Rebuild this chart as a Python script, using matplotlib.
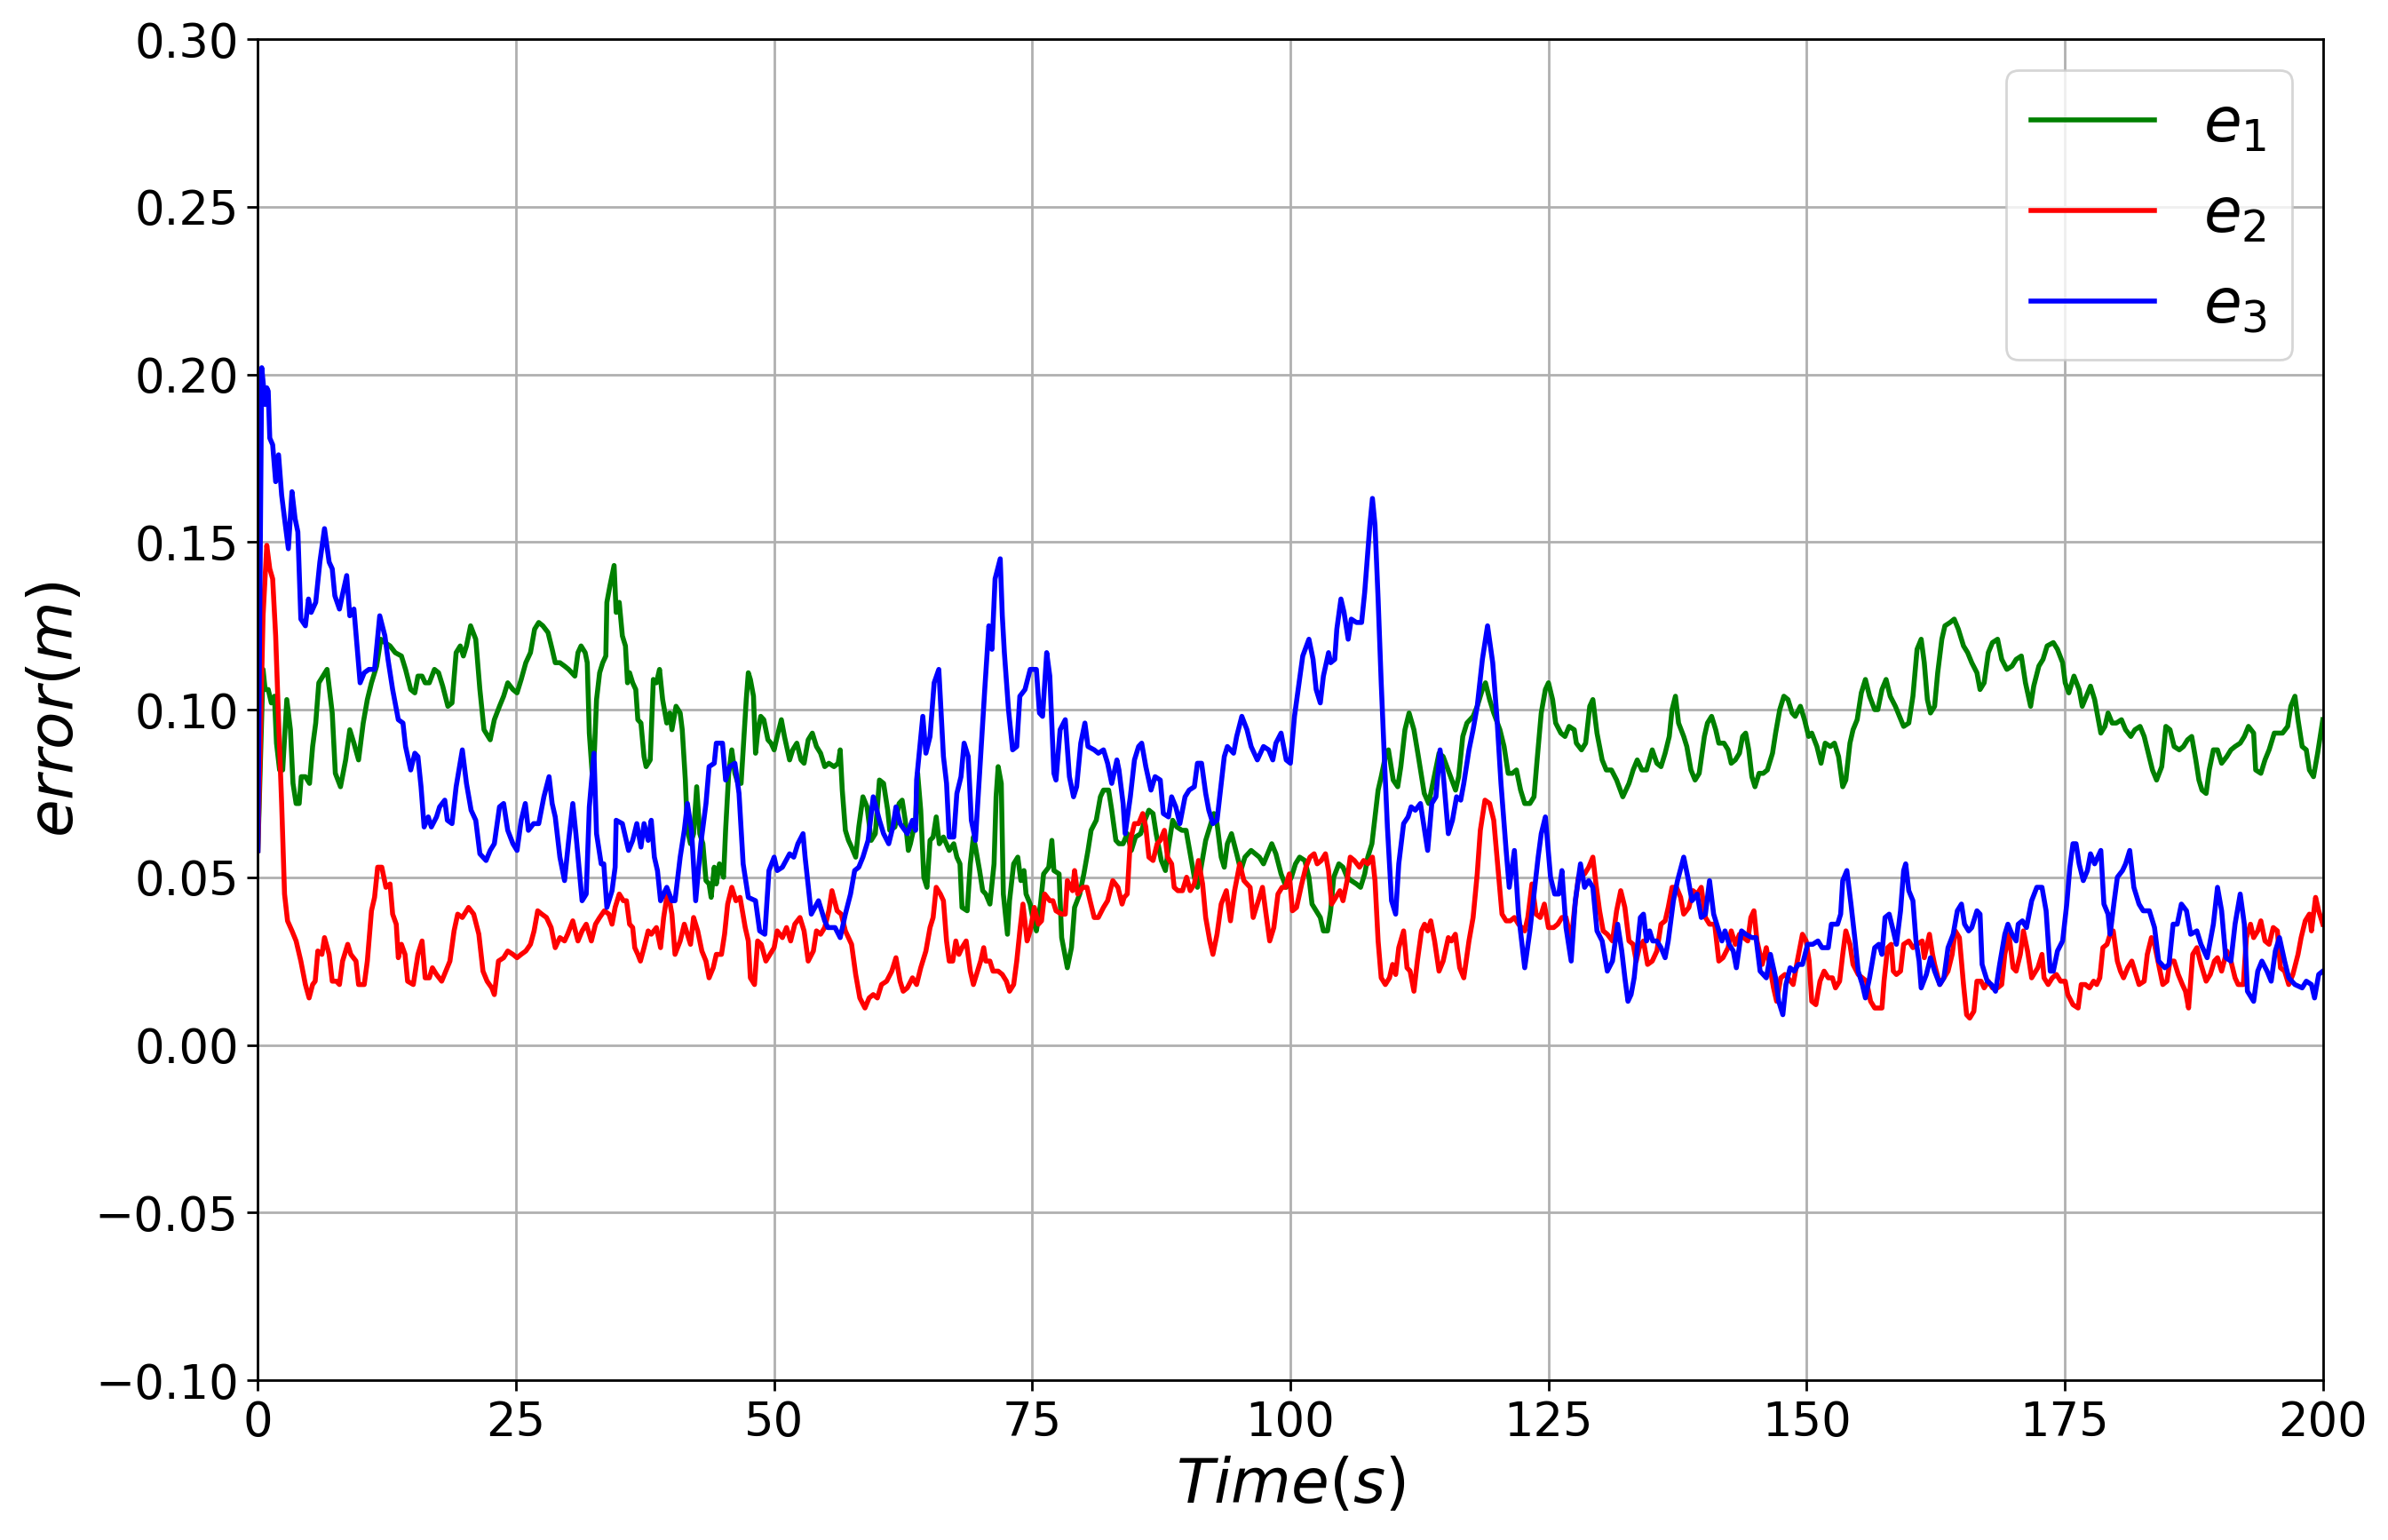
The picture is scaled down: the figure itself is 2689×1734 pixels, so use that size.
import matplotlib
matplotlib.use("Agg")
import matplotlib.pyplot as plt

# e1 (green)
t_e1 = [0.0, 0.5, 0.7, 1.0, 1.3, 1.6, 1.8, 2.1, 2.4, 2.8, 3.15, 3.4, 3.7, 4.0, 4.2, 4.6, 5.0, 5.3, 5.6, 5.9,
        6.3, 6.7, 7.2, 7.5, 8.0, 8.5, 8.9, 9.3, 9.75, 10.2, 10.6, 11.0, 11.5, 11.9, 12.3, 12.8, 13.3, 13.9, 14.3, 14.8,
        15.2, 15.5, 15.9, 16.2, 16.6, 17.1, 17.5, 17.9, 18.4, 18.8, 19.2, 19.6, 19.9, 20.2, 20.6, 21.1, 21.5, 21.9, 22.5, 22.9,
        23.4, 23.8, 24.2, 24.7, 25.1, 25.5, 25.95, 26.4, 26.8, 27.2, 27.6, 28.1, 28.5, 28.8, 29.25, 29.7, 30.1, 30.7, 31.0, 31.3,
        31.7, 31.9, 32.1, 32.4, 32.6, 32.8, 33.1, 33.4, 33.7, 33.8, 34.1, 34.5, 34.7, 35.0, 35.3, 35.6, 35.8, 36.0, 36.3, 36.6,
        36.8, 37.1, 37.4, 37.6, 38.0, 38.3, 38.6, 38.9, 39.2, 39.6, 39.9, 40.1, 40.5, 40.9, 41.1, 41.4, 41.6, 41.9, 42.2, 42.5,
        42.8, 43.1, 43.4, 43.7, 43.9, 44.2, 44.4, 44.7, 45.1, 45.3, 45.6, 45.9, 46.2, 46.5, 46.8, 47.0, 47.3, 47.5, 47.7, 48.0,
        48.2, 48.4, 48.7, 49.0, 49.4, 49.7, 50.0, 50.3, 50.7, 51.0, 51.5, 51.8, 52.2, 52.6, 52.9, 53.3, 53.7, 54.1, 54.5, 54.9,
        55.3, 55.8, 56.2, 56.4, 56.6, 56.9, 57.2, 57.5, 57.9, 58.2, 58.6, 59.0, 59.4, 59.8, 60.2, 60.6, 61.0, 61.2, 61.7, 62.1,
        62.4, 62.7, 63.0, 63.2, 63.7, 63.9, 64.2, 64.5, 64.8, 65.1, 65.4, 65.7, 66.0, 66.4, 66.96, 67.4, 67.7, 68.0, 68.2, 68.7,
        69.0, 69.3, 69.5, 69.9, 70.2, 70.5, 70.9, 71.3, 71.5, 71.7, 72.0, 72.2, 72.4, 72.6, 72.8, 73.2, 73.6, 73.9, 74.2, 74.4,
        74.8, 75.1, 75.4, 75.8, 76.1, 76.6, 76.9, 77.1, 77.6, 77.85, 78.4, 78.8, 79.1, 79.6, 80.0, 80.4, 80.7, 81.2, 81.6, 81.9,
        82.4, 82.7, 83.1, 83.4, 83.8, 84.2, 84.6, 85.0, 85.5, 85.9, 86.3, 86.7, 87.0, 87.5, 87.9, 88.2, 88.6, 89.0, 89.5, 89.9,
        90.3, 90.7, 91.0, 91.3, 91.8, 92.2, 92.6, 92.9, 93.3, 93.6, 93.9, 94.3, 94.8, 95.2, 95.6, 96.2, 96.6, 97.0, 97.4, 97.8,
        98.2, 98.6, 99.1, 99.6, 100.1, 100.5, 100.9, 101.4, 101.8, 102.1, 102.5, 102.9, 103.2, 103.6, 103.9, 104.2, 104.7, 105.1, 105.5, 105.9,
        106.4, 106.8, 107.2, 107.5, 107.9, 108.2, 108.5, 108.8, 109.2, 109.5, 109.96, 110.4, 110.7, 111.1, 111.5, 111.97, 112.4, 112.97, 113.4, 113.8,
        114.4, 114.8, 115.4, 116.0, 116.3, 116.7, 117.1, 117.7, 118.1, 118.6, 118.9, 119.3, 119.7, 120.3, 120.7, 121.1, 121.5, 121.9, 122.3, 122.7,
        123.2, 123.6, 123.9, 124.3, 124.7, 125.0, 125.4, 125.7, 126.2, 126.6, 127.0, 127.5, 127.7, 128.2, 128.6, 129.0, 129.3, 129.7, 130.2, 130.6,
        131.1, 131.6, 132.2, 132.8, 133.2, 133.6, 134.05, 134.5, 135.05, 135.5, 135.9, 136.3, 136.7, 136.97, 137.3, 137.6, 138.1, 138.4, 138.8, 139.2,
        139.6, 140.1, 140.4, 140.8, 141.2, 141.5, 142.0, 142.4, 142.7, 143.1, 143.5, 143.8, 144.1, 144.4, 144.7, 145.0, 145.4, 145.8, 146.2, 146.7,
        147.0, 147.4, 147.8, 148.2, 148.6, 148.9, 149.4, 149.8, 150.2, 150.5, 151.0, 151.4, 151.8, 152.3, 152.7, 153.1, 153.5, 153.8, 154.2, 154.5,
        154.9, 155.3, 155.7, 156.1, 156.6, 156.9, 157.3, 157.7, 158.1, 158.6, 159.0, 159.4, 159.9, 160.3, 160.7, 161.1, 161.4, 161.7, 162.0, 162.4,
        162.7, 163.1, 163.4, 163.9, 164.3, 164.7, 165.2, 165.6, 166.0, 166.5, 166.8, 167.2, 167.6, 168.0, 168.5, 168.9, 169.4, 169.9, 170.3, 170.8,
        171.2, 171.7, 172.0, 172.5, 172.9, 173.3, 173.9, 174.3, 174.8, 175.05, 175.4, 175.9, 176.4, 176.7, 177.1, 177.5, 177.9, 178.2, 178.5, 178.9,
        179.2, 179.6, 180.0, 180.5, 180.9, 181.4, 181.8, 182.3, 182.7, 183.1, 183.5, 183.9, 184.4, 184.8, 185.2, 185.6, 186.1, 186.5, 186.9, 187.3,
        187.7, 188.0, 188.3, 188.7, 189.0, 189.4, 189.8, 190.2, 190.7, 191.1, 191.5, 192.0, 192.4, 192.8, 193.3, 193.5, 194.0, 194.4, 194.8, 195.3,
        195.7, 196.1, 196.6, 196.9, 197.3, 197.6, 198.0, 198.4, 198.7, 199.1, 199.5, 200.0]
e1 = [0.058, 0.112, 0.106, 0.106, 0.102, 0.104, 0.090, 0.082, 0.082, 0.103, 0.094, 0.078, 0.072, 0.072, 0.080, 0.080, 0.078, 0.089, 0.096, 0.108,
      0.110, 0.112, 0.099, 0.081, 0.077, 0.085, 0.094, 0.090, 0.085, 0.096, 0.103, 0.108, 0.113, 0.121, 0.120, 0.119, 0.117, 0.116, 0.112, 0.106,
      0.105, 0.110, 0.110, 0.108, 0.108, 0.112, 0.111, 0.107, 0.101, 0.102, 0.117, 0.119, 0.116, 0.119, 0.125, 0.121, 0.106, 0.094, 0.091, 0.097,
      0.101, 0.104, 0.108, 0.106, 0.105, 0.109, 0.114, 0.117, 0.124, 0.126, 0.125, 0.123, 0.118, 0.114, 0.114, 0.113, 0.112, 0.110, 0.117, 0.119,
      0.117, 0.114, 0.093, 0.080, 0.088, 0.103, 0.111, 0.114, 0.116, 0.132, 0.137, 0.143, 0.129, 0.132, 0.122, 0.119, 0.108, 0.111, 0.108, 0.106,
      0.097, 0.096, 0.086, 0.083, 0.085, 0.109, 0.108, 0.112, 0.103, 0.096, 0.099, 0.094, 0.101, 0.099, 0.094, 0.079, 0.064, 0.060, 0.063, 0.077,
      0.063, 0.060, 0.049, 0.048, 0.044, 0.053, 0.048, 0.054, 0.050, 0.064, 0.081, 0.088, 0.081, 0.078, 0.078, 0.088, 0.103, 0.111, 0.109, 0.104,
      0.087, 0.093, 0.098, 0.097, 0.091, 0.090, 0.088, 0.092, 0.097, 0.092, 0.085, 0.088, 0.090, 0.085, 0.084, 0.091, 0.093, 0.089, 0.087, 0.083,
      0.084, 0.083, 0.084, 0.088, 0.076, 0.064, 0.061, 0.059, 0.056, 0.065, 0.074, 0.071, 0.061, 0.063, 0.079, 0.078, 0.070, 0.064, 0.065, 0.072,
      0.073, 0.067, 0.058, 0.060, 0.067, 0.081, 0.070, 0.050, 0.047, 0.061, 0.062, 0.068, 0.060, 0.062, 0.058, 0.060, 0.056, 0.054, 0.041, 0.040,
      0.054, 0.062, 0.059, 0.052, 0.046, 0.045, 0.042, 0.054, 0.074, 0.083, 0.078, 0.045, 0.039, 0.033, 0.043, 0.054, 0.056, 0.049, 0.052, 0.045,
      0.042, 0.037, 0.034, 0.042, 0.051, 0.053, 0.061, 0.052, 0.051, 0.032, 0.023, 0.029, 0.041, 0.045, 0.051, 0.058, 0.064, 0.067, 0.074, 0.076,
      0.076, 0.070, 0.061, 0.060, 0.060, 0.063, 0.058, 0.062, 0.063, 0.067, 0.070, 0.069, 0.063, 0.055, 0.052, 0.059, 0.067, 0.065, 0.064, 0.064,
      0.057, 0.050, 0.047, 0.052, 0.061, 0.065, 0.069, 0.066, 0.056, 0.053, 0.060, 0.063, 0.057, 0.052, 0.056, 0.058, 0.057, 0.056, 0.054, 0.057,
      0.060, 0.057, 0.051, 0.047, 0.050, 0.054, 0.056, 0.055, 0.050, 0.042, 0.040, 0.038, 0.034, 0.034, 0.040, 0.050, 0.054, 0.053, 0.050, 0.049,
      0.048, 0.047, 0.051, 0.056, 0.060, 0.068, 0.076, 0.080, 0.086, 0.088, 0.079, 0.077, 0.083, 0.094, 0.099, 0.094, 0.086, 0.075, 0.072, 0.078,
      0.087, 0.086, 0.081, 0.076, 0.080, 0.092, 0.096, 0.098, 0.101, 0.106, 0.108, 0.103, 0.099, 0.094, 0.089, 0.081, 0.081, 0.082, 0.076, 0.072,
      0.072, 0.074, 0.085, 0.099, 0.106, 0.108, 0.103, 0.096, 0.093, 0.092, 0.095, 0.094, 0.090, 0.088, 0.090, 0.101, 0.103, 0.093, 0.085, 0.082,
      0.082, 0.079, 0.074, 0.078, 0.082, 0.085, 0.082, 0.082, 0.088, 0.084, 0.083, 0.087, 0.092, 0.100, 0.104, 0.096, 0.092, 0.089, 0.082, 0.079,
      0.081, 0.092, 0.096, 0.098, 0.094, 0.090, 0.090, 0.088, 0.084, 0.085, 0.087, 0.092, 0.093, 0.088, 0.080, 0.077, 0.081, 0.081, 0.082, 0.087,
      0.093, 0.100, 0.104, 0.103, 0.099, 0.098, 0.101, 0.097, 0.092, 0.093, 0.089, 0.084, 0.090, 0.089, 0.090, 0.086, 0.077, 0.079, 0.090, 0.094,
      0.097, 0.105, 0.109, 0.104, 0.100, 0.100, 0.106, 0.109, 0.104, 0.101, 0.098, 0.095, 0.096, 0.104, 0.118, 0.121, 0.114, 0.103, 0.099, 0.101,
      0.111, 0.121, 0.125, 0.126, 0.127, 0.124, 0.119, 0.117, 0.114, 0.111, 0.106, 0.108, 0.117, 0.120, 0.121, 0.115, 0.112, 0.113, 0.115, 0.116,
      0.108, 0.101, 0.107, 0.113, 0.115, 0.119, 0.120, 0.118, 0.114, 0.108, 0.105, 0.110, 0.106, 0.101, 0.104, 0.107, 0.103, 0.098, 0.093, 0.095,
      0.099, 0.096, 0.096, 0.097, 0.094, 0.092, 0.094, 0.095, 0.092, 0.087, 0.082, 0.079, 0.083, 0.095, 0.094, 0.089, 0.088, 0.089, 0.091, 0.092,
      0.085, 0.079, 0.076, 0.075, 0.082, 0.088, 0.088, 0.084, 0.086, 0.088, 0.089, 0.090, 0.092, 0.095, 0.093, 0.082, 0.081, 0.085, 0.088, 0.093,
      0.093, 0.093, 0.095, 0.101, 0.104, 0.097, 0.089, 0.088, 0.082, 0.080, 0.087, 0.097]

# e2 (red)
t_e2 = [0.0, 0.5, 0.86, 1.15, 1.43, 1.72, 2.0, 2.3, 2.58, 2.87, 3.3, 3.7, 4.16, 4.6, 4.96, 5.3, 5.55, 5.8, 6.2, 6.45,
        6.9, 7.2, 7.6, 7.9, 8.2, 8.7, 9.0, 9.5, 9.75, 10.3, 10.6, 11.0, 11.3, 11.6, 12.0, 12.4, 12.8, 13.05, 13.4, 13.6,
        13.9, 14.25, 14.5, 15.05, 15.5, 15.9, 16.2, 16.6, 16.9, 17.3, 17.8, 18.2, 18.6, 19.0, 19.35, 19.8, 20.4, 20.9, 21.4, 21.8,
        22.2, 22.65, 22.9, 23.3, 23.8, 24.2, 24.7, 25.1, 25.5, 25.95, 26.4, 26.75, 27.1, 27.5, 27.95, 28.4, 28.8, 29.25, 29.7, 30.0,
        30.5, 31.0, 31.4, 31.8, 32.3, 32.7, 33.1, 33.55, 34.0, 34.3, 34.6, 35.0, 35.4, 35.7, 36.0, 36.3, 36.5, 36.8, 37.05, 37.4,
        37.8, 38.1, 38.6, 39.0, 39.3, 39.7, 40.1, 40.4, 40.9, 41.3, 41.6, 41.9, 42.2, 42.6, 43.0, 43.4, 43.7, 44.1, 44.4, 44.9,
        45.2, 45.5, 45.9, 46.3, 46.7, 47.2, 47.5, 47.7, 48.1, 48.4, 48.75, 49.2, 49.6, 50.0, 50.3, 50.8, 51.2, 51.6, 52.0, 52.5,
        52.9, 53.3, 53.8, 54.1, 54.5, 54.9, 55.3, 55.6, 56.1, 56.5, 56.9, 57.5, 57.9, 58.3, 58.8, 59.2, 59.6, 60.0, 60.4, 60.9,
        61.4, 61.8, 62.2, 62.5, 62.9, 63.4, 63.8, 64.2, 64.7, 65.1, 65.4, 65.7, 66.1, 66.4, 66.7, 66.96, 67.3, 67.6, 67.9, 68.2,
        68.6, 69.0, 69.3, 69.7, 70.0, 70.3, 70.5, 70.9, 71.2, 71.7, 72.1, 72.5, 72.8, 73.2, 73.5, 73.8, 74.1, 74.5, 74.8, 75.2,
        75.6, 75.9, 76.2, 76.7, 77.0, 77.3, 77.85, 78.2, 78.4, 78.9, 79.1, 79.4, 79.9, 80.3, 80.6, 81.0, 81.4, 81.9, 82.3, 82.8,
        83.3, 83.7, 83.9, 84.2, 84.5, 84.9, 85.3, 85.7, 86.0, 86.3, 86.7, 87.1, 87.4, 87.8, 88.1, 88.5, 88.75, 89.1, 89.55, 89.95,
        90.3, 90.7, 91.1, 91.5, 91.8, 92.2, 92.5, 92.9, 93.3, 93.8, 94.2, 94.6, 95.1, 95.5, 96.1, 96.4, 96.8, 97.3, 97.6, 98.0,
        98.4, 98.8, 99.2, 99.5, 99.9, 100.2, 100.6, 101.1, 101.5, 101.9, 102.3, 102.6, 103.0, 103.4, 103.7, 104.0, 104.4, 104.8, 105.1, 105.5,
        105.8, 106.2, 106.7, 107.1, 107.5, 107.95, 108.2, 108.5, 108.8, 109.2, 109.6, 109.9, 110.2, 110.5, 110.97, 111.3, 111.6, 111.97, 112.3, 112.7,
        113.0, 113.3, 113.6, 113.97, 114.4, 114.8, 115.3, 115.6, 115.98, 116.4, 116.8, 117.3, 117.7, 118.1, 118.4, 118.85, 119.3, 119.7, 120.1, 120.5,
        120.9, 121.3, 121.7, 122.1, 122.7, 123.0, 123.4, 123.8, 124.2, 124.6, 125.0, 125.5, 125.9, 126.3, 126.7, 127.2, 127.5, 127.9, 128.5, 128.9,
        129.3, 129.6, 129.95, 130.3, 130.7, 131.2, 131.6, 132.0, 132.4, 132.8, 133.2, 133.5, 133.8, 134.2, 134.6, 135.05, 135.5, 135.9, 136.3, 136.6,
        136.97, 137.4, 137.8, 138.1, 138.6, 139.0, 139.4, 139.8, 140.2, 140.6, 141.1, 141.5, 141.9, 142.4, 142.7, 143.1, 143.5, 143.9, 144.3, 144.6,
        144.9, 145.2, 145.7, 146.1, 146.4, 146.8, 147.1, 147.5, 147.9, 148.2, 148.7, 149.1, 149.6, 149.96, 150.25, 150.5, 150.9, 151.3, 151.7, 152.1,
        152.5, 152.8, 153.2, 153.5, 153.8, 154.2, 154.5, 155.0, 155.4, 155.8, 156.2, 156.6, 157.3, 157.5, 157.85, 158.2, 158.4, 158.7, 159.1, 159.4,
        159.9, 160.3, 160.7, 161.2, 161.4, 161.9, 162.2, 162.4, 162.9, 163.3, 163.7, 164.1, 164.4, 164.8, 165.2, 165.5, 165.8, 166.2, 166.5, 166.9,
        167.2, 167.6, 168.0, 168.5, 168.9, 169.2, 169.6, 170.0, 170.3, 170.7, 171.0, 171.4, 171.8, 172.0, 172.4, 172.8, 173.0, 173.4, 173.8, 174.2,
        174.6, 175.05, 175.3, 175.8, 176.3, 176.6, 177.0, 177.4, 177.8, 178.1, 178.4, 178.7, 179.1, 179.4, 179.7, 180.1, 180.4, 180.7, 181.1, 181.5,
        181.9, 182.2, 182.7, 183.0, 183.4, 183.7, 184.1, 184.5, 184.9, 185.2, 185.6, 186.0, 186.4, 186.7, 187.0, 187.4, 187.8, 188.2, 188.7, 189.1,
        189.5, 189.8, 190.2, 190.7, 191.1, 191.5, 191.8, 192.3, 192.6, 193.0, 193.3, 193.7, 194.0, 194.4, 194.8, 195.2, 195.6, 195.9, 196.3, 196.7,
        197.1, 197.6, 197.9, 198.3, 198.7, 198.9, 199.3, 199.6, 200.0]
e2 = [0.058, 0.128, 0.149, 0.142, 0.139, 0.122, 0.097, 0.072, 0.045, 0.037, 0.034, 0.031, 0.025, 0.018, 0.014, 0.018, 0.019, 0.028, 0.027, 0.032,
      0.027, 0.019, 0.019, 0.018, 0.025, 0.030, 0.027, 0.025, 0.018, 0.018, 0.025, 0.040, 0.044, 0.053, 0.053, 0.047, 0.048, 0.039, 0.036, 0.026,
      0.030, 0.027, 0.019, 0.018, 0.027, 0.031, 0.020, 0.020, 0.023, 0.021, 0.019, 0.022, 0.025, 0.034, 0.039, 0.038, 0.041, 0.039, 0.033, 0.022,
      0.019, 0.017, 0.015, 0.025, 0.026, 0.028, 0.027, 0.026, 0.027, 0.028, 0.030, 0.034, 0.040, 0.039, 0.038, 0.035, 0.029, 0.032, 0.031, 0.033,
      0.037, 0.031, 0.034, 0.036, 0.031, 0.036, 0.038, 0.040, 0.039, 0.036, 0.041, 0.045, 0.043, 0.043, 0.036, 0.035, 0.029, 0.027, 0.025, 0.029,
      0.034, 0.033, 0.035, 0.029, 0.038, 0.046, 0.039, 0.027, 0.031, 0.036, 0.033, 0.030, 0.038, 0.034, 0.028, 0.025, 0.020, 0.023, 0.027, 0.027,
      0.033, 0.042, 0.047, 0.043, 0.044, 0.035, 0.031, 0.020, 0.018, 0.031, 0.030, 0.025, 0.027, 0.029, 0.034, 0.032, 0.035, 0.031, 0.036, 0.038,
      0.034, 0.025, 0.028, 0.034, 0.033, 0.035, 0.040, 0.046, 0.040, 0.039, 0.034, 0.030, 0.021, 0.014, 0.011, 0.014, 0.015, 0.014, 0.018, 0.019,
      0.022, 0.026, 0.019, 0.016, 0.017, 0.020, 0.018, 0.023, 0.028, 0.035, 0.038, 0.047, 0.045, 0.043, 0.031, 0.025, 0.025, 0.031, 0.027, 0.029,
      0.031, 0.022, 0.018, 0.022, 0.025, 0.029, 0.025, 0.025, 0.022, 0.022, 0.021, 0.019, 0.016, 0.018, 0.025, 0.034, 0.042, 0.031, 0.034, 0.041,
      0.036, 0.037, 0.045, 0.043, 0.043, 0.040, 0.039, 0.039, 0.049, 0.046, 0.052, 0.045, 0.047, 0.047, 0.043, 0.038, 0.038, 0.041, 0.043, 0.049,
      0.047, 0.042, 0.044, 0.045, 0.061, 0.066, 0.066, 0.069, 0.065, 0.056, 0.055, 0.060, 0.061, 0.064, 0.056, 0.054, 0.047, 0.046, 0.046, 0.050,
      0.046, 0.048, 0.055, 0.048, 0.038, 0.031, 0.027, 0.033, 0.042, 0.046, 0.037, 0.046, 0.054, 0.049, 0.047, 0.038, 0.042, 0.047, 0.040, 0.031,
      0.035, 0.045, 0.047, 0.047, 0.051, 0.040, 0.041, 0.048, 0.053, 0.056, 0.057, 0.054, 0.055, 0.057, 0.052, 0.042, 0.044, 0.046, 0.043, 0.049,
      0.056, 0.055, 0.053, 0.055, 0.054, 0.056, 0.049, 0.031, 0.020, 0.018, 0.020, 0.024, 0.021, 0.029, 0.034, 0.023, 0.022, 0.016, 0.025, 0.034,
      0.036, 0.034, 0.037, 0.031, 0.022, 0.025, 0.032, 0.031, 0.033, 0.023, 0.020, 0.031, 0.038, 0.051, 0.064, 0.073, 0.072, 0.067, 0.053, 0.039,
      0.037, 0.037, 0.038, 0.036, 0.034, 0.038, 0.048, 0.039, 0.038, 0.042, 0.035, 0.035, 0.036, 0.038, 0.038, 0.031, 0.040, 0.050, 0.051, 0.053,
      0.056, 0.048, 0.040, 0.034, 0.033, 0.031, 0.040, 0.046, 0.041, 0.031, 0.030, 0.025, 0.029, 0.031, 0.024, 0.025, 0.028, 0.036, 0.037, 0.041,
      0.047, 0.047, 0.044, 0.039, 0.041, 0.046, 0.045, 0.047, 0.038, 0.036, 0.036, 0.025, 0.026, 0.029, 0.034, 0.030, 0.033, 0.032, 0.031, 0.038,
      0.040, 0.031, 0.024, 0.029, 0.024, 0.017, 0.013, 0.020, 0.021, 0.020, 0.018, 0.025, 0.033, 0.031, 0.025, 0.013, 0.012, 0.019, 0.022, 0.020,
      0.020, 0.017, 0.019, 0.027, 0.034, 0.030, 0.024, 0.021, 0.020, 0.019, 0.013, 0.011, 0.011, 0.019, 0.029, 0.030, 0.022, 0.021, 0.022, 0.030,
      0.031, 0.029, 0.030, 0.031, 0.026, 0.033, 0.027, 0.024, 0.018, 0.020, 0.022, 0.027, 0.034, 0.032, 0.018, 0.009, 0.008, 0.010, 0.019, 0.019,
      0.017, 0.019, 0.017, 0.017, 0.018, 0.027, 0.033, 0.023, 0.022, 0.027, 0.034, 0.028, 0.020, 0.021, 0.023, 0.027, 0.020, 0.018, 0.020, 0.021,
      0.019, 0.019, 0.015, 0.012, 0.011, 0.018, 0.018, 0.017, 0.019, 0.018, 0.020, 0.029, 0.030, 0.033, 0.034, 0.025, 0.022, 0.020, 0.023, 0.025,
      0.021, 0.018, 0.019, 0.027, 0.032, 0.030, 0.024, 0.018, 0.019, 0.025, 0.025, 0.021, 0.018, 0.016, 0.011, 0.027, 0.029, 0.024, 0.019, 0.021,
      0.025, 0.026, 0.022, 0.028, 0.025, 0.020, 0.018, 0.018, 0.032, 0.036, 0.032, 0.034, 0.037, 0.031, 0.030, 0.035, 0.034, 0.023, 0.022, 0.018,
      0.021, 0.027, 0.032, 0.037, 0.039, 0.034, 0.044, 0.040, 0.036]

# e3 (blue)
t_e3 = [0.0, 0.37, 0.72, 0.86, 1.0, 1.15, 1.43, 1.72, 2.0, 2.3, 2.58, 2.95, 3.3, 3.6, 3.87, 4.16, 4.6, 4.9, 5.16, 5.6,
        6.0, 6.45, 6.9, 7.2, 7.45, 7.9, 8.17, 8.6, 8.9, 9.3, 9.6, 9.9, 10.3, 10.75, 11.3, 11.8, 12.3, 12.6, 13.05, 13.6,
        14.05, 14.3, 14.8, 15.2, 15.5, 15.8, 16.1, 16.5, 16.8, 17.3, 17.6, 18.1, 18.35, 18.8, 19.2, 19.8, 20.2, 20.65, 21.1, 21.5,
        22.1, 22.5, 22.9, 23.4, 23.8, 24.2, 24.7, 25.1, 25.5, 25.9, 26.2, 26.7, 27.2, 27.7, 28.2, 28.5, 28.8, 29.25, 29.7, 30.1,
        30.5, 30.8, 31.1, 31.4, 31.8, 32.1, 32.55, 32.8, 33.25, 33.5, 33.8, 34.3, 34.6, 34.7, 35.3, 35.6, 35.9, 36.3, 36.7, 37.1,
        37.4, 37.8, 38.1, 38.4, 38.7, 39.0, 39.6, 40.1, 40.4, 40.9, 41.3, 41.6, 42.0, 42.4, 42.9, 43.4, 43.7, 44.2, 44.4, 45.0,
        45.3, 45.7, 46.2, 46.6, 47.0, 47.5, 48.2, 48.6, 49.1, 49.5, 50.0, 50.3, 50.8, 51.5, 51.9, 52.3, 52.8, 53.0, 53.6, 54.3,
        54.9, 55.2, 55.9, 56.4, 56.9, 57.4, 57.8, 58.2, 58.6, 59.1, 59.6, 60.2, 60.6, 61.1, 61.5, 61.8, 62.2, 62.9, 63.4, 63.7,
        63.8, 64.4, 64.7, 65.1, 65.5, 65.95, 66.4, 66.7, 66.96, 67.4, 67.7, 68.1, 68.4, 68.8, 69.1, 69.5, 70.0, 70.4, 70.8, 71.1,
        71.4, 71.9, 72.1, 72.3, 72.7, 73.1, 73.5, 73.8, 74.3, 74.8, 75.4, 75.7, 76.0, 76.4, 76.7, 77.1, 77.3, 77.7, 78.2, 78.6,
        79.0, 79.3, 79.7, 80.1, 80.4, 81.0, 81.4, 81.9, 82.3, 82.7, 83.2, 83.4, 83.8, 84.0, 84.5, 84.9, 85.3, 85.6, 86.0, 86.5,
        86.9, 87.4, 87.7, 88.2, 88.5, 88.9, 89.3, 89.8, 90.2, 90.7, 91.0, 91.4, 91.8, 92.1, 92.5, 92.9, 93.3, 93.6, 93.9, 94.5,
        94.8, 95.3, 95.8, 96.2, 96.8, 97.4, 97.9, 98.3, 98.6, 99.1, 99.6, 100.0, 100.4, 100.8, 101.2, 101.8, 102.2, 102.5, 102.9, 103.2,
        103.7, 103.9, 104.3, 104.5, 104.9, 105.2, 105.6, 105.9, 106.4, 106.9, 107.2, 107.7, 107.95, 108.2, 108.5, 108.8, 109.1, 109.4, 109.8, 110.2,
        110.5, 110.97, 111.4, 111.7, 112.1, 112.6, 113.0, 113.3, 113.7, 114.1, 114.5, 114.8, 115.3, 115.7, 116.1, 116.5, 116.8, 117.3, 117.7, 118.1,
        118.6, 119.1, 119.6, 120.0, 120.4, 120.9, 121.2, 121.7, 122.1, 122.7, 123.2, 123.6, 124.0, 124.3, 124.7, 125.2, 125.6, 126.0, 126.3, 126.7,
        127.2, 127.6, 128.1, 128.5, 128.9, 129.3, 129.7, 130.2, 130.7, 131.2, 131.7, 132.1, 132.4, 132.7, 133.0, 133.3, 133.6, 133.9, 134.2, 134.5,
        134.8, 135.1, 135.5, 135.9, 136.3, 136.6, 137.1, 137.5, 138.1, 138.5, 138.9, 139.4, 139.8, 140.2, 140.6, 141.0, 141.4, 141.8, 142.1, 142.5,
        142.9, 143.2, 143.7, 144.1, 144.7, 145.1, 145.5, 146.1, 146.5, 147.0, 147.3, 147.7, 148.0, 148.4, 148.8, 149.2, 149.6, 150.1, 150.6, 151.1,
        151.5, 152.1, 152.4, 153.0, 153.3, 153.5, 153.9, 154.3, 154.7, 155.0, 155.4, 155.7, 156.1, 156.6, 157.0, 157.3, 157.6, 158.0, 158.4, 158.7,
        159.1, 159.4, 159.6, 159.9, 160.3, 160.6, 160.9, 161.1, 161.6, 162.0, 162.4, 162.9, 163.3, 163.7, 164.2, 164.6, 165.0, 165.3, 165.7, 166.0,
        166.5, 166.8, 167.0, 167.5, 167.9, 168.3, 168.7, 169.2, 169.5, 169.9, 170.3, 170.5, 170.9, 171.3, 171.8, 172.3, 172.8, 173.2, 173.6, 173.9,
        174.3, 174.8, 175.2, 175.5, 175.8, 176.1, 176.4, 176.8, 177.2, 177.5, 177.9, 178.5, 178.8, 179.2, 179.4, 179.8, 180.1, 180.6, 180.9, 181.3,
        181.7, 182.2, 182.6, 183.2, 183.7, 184.1, 184.7, 185.1, 185.5, 185.9, 186.3, 186.8, 187.2, 187.8, 188.2, 188.8, 189.4, 189.8, 190.2, 190.6,
        191.1, 191.5, 192.0, 192.4, 192.7, 193.3, 193.7, 194.1, 194.6, 195.0, 195.4, 195.8, 196.3, 196.7, 197.3, 198.0, 198.4, 198.9, 199.2, 199.6,
        200.0]
e3 = [0.058, 0.202, 0.191, 0.196, 0.195, 0.181, 0.179, 0.168, 0.176, 0.164, 0.157, 0.148, 0.165, 0.157, 0.153, 0.127, 0.125, 0.133, 0.129, 0.132,
      0.144, 0.154, 0.144, 0.142, 0.134, 0.130, 0.134, 0.140, 0.128, 0.130, 0.119, 0.108, 0.111, 0.112, 0.112, 0.128, 0.122, 0.115, 0.106, 0.097,
      0.096, 0.089, 0.082, 0.087, 0.086, 0.077, 0.065, 0.068, 0.065, 0.068, 0.071, 0.073, 0.067, 0.066, 0.077, 0.088, 0.078, 0.070, 0.067, 0.057,
      0.055, 0.058, 0.060, 0.071, 0.072, 0.064, 0.060, 0.058, 0.067, 0.072, 0.064, 0.066, 0.066, 0.074, 0.080, 0.072, 0.068, 0.056, 0.049, 0.061,
      0.072, 0.063, 0.053, 0.043, 0.045, 0.071, 0.087, 0.063, 0.054, 0.054, 0.041, 0.046, 0.053, 0.067, 0.066, 0.062, 0.058, 0.061, 0.066, 0.059,
      0.066, 0.061, 0.067, 0.056, 0.052, 0.043, 0.047, 0.043, 0.043, 0.056, 0.064, 0.072, 0.064, 0.043, 0.060, 0.072, 0.083, 0.084, 0.090, 0.090,
      0.079, 0.083, 0.084, 0.075, 0.054, 0.044, 0.043, 0.034, 0.033, 0.052, 0.056, 0.052, 0.053, 0.057, 0.056, 0.060, 0.063, 0.056, 0.039, 0.043,
      0.037, 0.035, 0.035, 0.032, 0.039, 0.045, 0.052, 0.053, 0.056, 0.061, 0.074, 0.067, 0.063, 0.060, 0.065, 0.071, 0.066, 0.063, 0.067, 0.064,
      0.079, 0.098, 0.087, 0.092, 0.108, 0.112, 0.086, 0.078, 0.062, 0.062, 0.075, 0.080, 0.090, 0.086, 0.067, 0.061, 0.086, 0.106, 0.125, 0.118,
      0.139, 0.145, 0.128, 0.117, 0.100, 0.088, 0.089, 0.104, 0.106, 0.112, 0.112, 0.099, 0.098, 0.117, 0.110, 0.081, 0.079, 0.094, 0.097, 0.080,
      0.074, 0.077, 0.090, 0.096, 0.089, 0.088, 0.087, 0.088, 0.084, 0.078, 0.085, 0.082, 0.072, 0.063, 0.074, 0.085, 0.089, 0.090, 0.083, 0.076,
      0.080, 0.079, 0.069, 0.068, 0.074, 0.071, 0.066, 0.074, 0.076, 0.077, 0.084, 0.084, 0.075, 0.070, 0.066, 0.067, 0.078, 0.086, 0.089, 0.087,
      0.092, 0.098, 0.094, 0.089, 0.085, 0.089, 0.088, 0.085, 0.090, 0.093, 0.085, 0.084, 0.098, 0.107, 0.116, 0.121, 0.115, 0.106, 0.102, 0.110,
      0.117, 0.114, 0.115, 0.124, 0.133, 0.129, 0.121, 0.127, 0.126, 0.126, 0.135, 0.155, 0.163, 0.155, 0.133, 0.108, 0.086, 0.065, 0.043, 0.039,
      0.054, 0.066, 0.068, 0.071, 0.070, 0.072, 0.064, 0.058, 0.072, 0.074, 0.088, 0.081, 0.063, 0.067, 0.074, 0.073, 0.078, 0.088, 0.094, 0.101,
      0.115, 0.125, 0.114, 0.098, 0.078, 0.058, 0.047, 0.058, 0.039, 0.023, 0.034, 0.045, 0.056, 0.063, 0.068, 0.050, 0.045, 0.045, 0.052, 0.035,
      0.025, 0.043, 0.054, 0.047, 0.049, 0.047, 0.034, 0.031, 0.022, 0.025, 0.036, 0.028, 0.020, 0.013, 0.015, 0.020, 0.029, 0.038, 0.039, 0.031,
      0.034, 0.031, 0.031, 0.029, 0.026, 0.031, 0.043, 0.049, 0.056, 0.050, 0.043, 0.045, 0.038, 0.039, 0.049, 0.039, 0.035, 0.031, 0.034, 0.030,
      0.028, 0.023, 0.034, 0.033, 0.032, 0.032, 0.022, 0.020, 0.027, 0.020, 0.013, 0.009, 0.018, 0.023, 0.022, 0.024, 0.024, 0.030, 0.030, 0.031,
      0.029, 0.029, 0.036, 0.036, 0.039, 0.049, 0.052, 0.042, 0.031, 0.022, 0.018, 0.014, 0.020, 0.029, 0.030, 0.027, 0.038, 0.039, 0.034, 0.030,
      0.040, 0.052, 0.054, 0.046, 0.043, 0.031, 0.025, 0.017, 0.021, 0.026, 0.022, 0.018, 0.020, 0.029, 0.033, 0.040, 0.042, 0.036, 0.034, 0.035,
      0.040, 0.039, 0.024, 0.019, 0.018, 0.016, 0.024, 0.033, 0.036, 0.033, 0.031, 0.036, 0.037, 0.035, 0.043, 0.047, 0.047, 0.040, 0.022, 0.022,
      0.028, 0.031, 0.042, 0.053, 0.060, 0.060, 0.054, 0.049, 0.052, 0.057, 0.054, 0.058, 0.042, 0.039, 0.033, 0.043, 0.050, 0.052, 0.054, 0.058,
      0.047, 0.042, 0.040, 0.040, 0.035, 0.025, 0.023, 0.024, 0.036, 0.036, 0.042, 0.040, 0.033, 0.034, 0.030, 0.026, 0.036, 0.047, 0.040, 0.026,
      0.025, 0.036, 0.045, 0.036, 0.016, 0.013, 0.022, 0.025, 0.022, 0.019, 0.028, 0.032, 0.025, 0.020, 0.018, 0.017, 0.019, 0.018, 0.014, 0.021,
      0.022]

x_ticks = [0, 25, 50, 75, 100, 125, 150, 175, 200]
y_ticks = [-0.10, -0.05, 0.00, 0.05, 0.10, 0.15, 0.20, 0.25, 0.30]

fig, ax = plt.subplots(figsize=(13.445, 8.67), dpi=200)
fig.subplots_adjust(left=0.108, right=0.9727, top=0.9746, bottom=0.1038)

ax.plot(t_e1, e1, color='g', linewidth=2, label='$e_1$')
ax.plot(t_e2, e2, color='r', linewidth=2, label='$e_2$')
ax.plot(t_e3, e3, color='b', linewidth=2, label='$e_3$')

ax.set_xlim(0, 200)
ax.set_ylim(-0.10, 0.30)
ax.set_xticks(x_ticks)
ax.set_yticks(y_ticks)
ax.tick_params(labelsize=19, width=1.0, length=4.3)
for sp in ax.spines.values():
    sp.set_linewidth(1.0)
ax.grid(True, color='#b0b0b0', linewidth=1.0)

ax.set_xlabel('$Time(s)$', fontsize=25)
ax.set_ylabel('$error(m)$', fontsize=25)
ax.legend(loc='upper right', fontsize=25)

plt.savefig('out.png', dpi=200)
